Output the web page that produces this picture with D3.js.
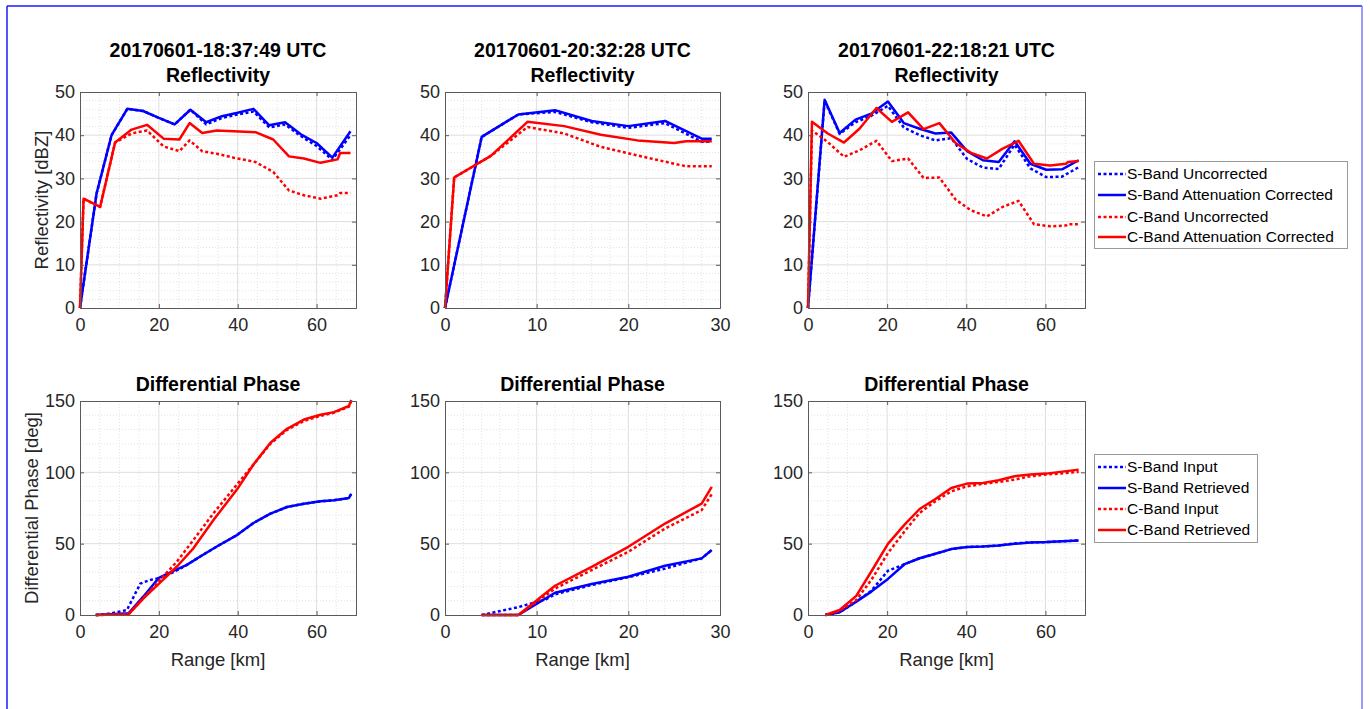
<!DOCTYPE html>
<html>
<head>
<meta charset="utf-8">
<script src="https://cdn.jsdelivr.net/npm/d3@7"></script>
<style>
  html, body { margin: 0; padding: 0; background: #fff; }
  svg { display: block; font-family: "Liberation Sans", Arial, Helvetica, sans-serif; }
</style>
</head>
<body>
<svg id="chart" width="1370" height="709"></svg>
<script>
// ---------------- DATA ----------------
const timeLabels = ["20170601-18:37:49 UTC", "20170601-20:32:28 UTC", "20170601-22:18:21 UTC"];
const reflTicksY = [0, 10, 20, 30, 40, 50];
const phaseTicksY = [0, 50, 100, 150];
const rangeTicksLong = [0, 20, 40, 60];
const rangeTicksShort = [0, 10, 20, 30];
const reflLegend = ["S-Band Uncorrected", "S-Band Attenuation Corrected", "C-Band Uncorrected", "C-Band Attenuation Corrected"];
const phaseLegend = ["S-Band Input", "S-Band Retrieved", "C-Band Input", "C-Band Retrieved"];

// Scan 1 reflectivity
const s1Range = [0, 4.2, 8, 12, 16, 20, 24, 28, 32, 36, 40, 44, 48, 52, 56, 60, 64, 68.6];
const s1Unc   = [0, 26.5, 40, 46.1, 45.6, 44, 42.5, 45.9, 42.5, 44, 44.8, 45.5, 41.8, 42.5, 39.8, 37.5, 34.3, 40];
const s1Corr  = [0, 26.5, 40, 46.1, 45.6, 44, 42.5, 45.9, 43, 44.4, 45.2, 46.1, 42.3, 43, 40.2, 38.2, 34.8, 40.9];
const c1Range = [0, 0.9, 5.1, 8.9, 13.1, 17, 21.2, 25.2, 27.8, 31, 34.7, 39, 44.5, 49, 53, 56.8, 61, 65.3, 66, 68.6];
const c1Unc   = [0, 25.3, 23.4, 38.3, 40.4, 41.1, 37.4, 36.3, 38.8, 36.3, 35.7, 34.8, 33.8, 31.5, 27.2, 26.1, 25.3, 26.1, 26.6, 26.6];
const c1Corr  = [0, 25.3, 23.4, 38.3, 41.3, 42.4, 39.2, 39, 42.8, 40.5, 41.1, 40.9, 40.7, 39, 35.1, 34.6, 33.6, 34.4, 35.9, 35.9];

// Scan 2 reflectivity
const s2Range = [0, 4, 8, 12, 16, 20, 24, 28, 29.1];
const s2Unc   = [0, 39.6, 44.8, 45.4, 43, 41.7, 42.8, 38.5, 38.5];
const s2Corr  = [0, 39.6, 44.8, 45.8, 43.3, 42.1, 43.3, 39.2, 39.2];
const c2Range = [0, 1, 5, 9, 13, 17, 21, 25, 26.3, 29.1];
const c2Unc   = [0, 30.2, 35.2, 41.9, 40.4, 37.3, 35.3, 33.4, 32.8, 32.8];
const c2Corr  = [0, 30.2, 35.2, 43.1, 42.1, 40.1, 38.8, 38.2, 38.6, 38.6];

// Scan 3 reflectivity
const s3Range = [0, 4.2, 8, 12, 16, 20.2, 24.2, 28.2, 32.2, 36.2, 40.2, 44.2, 48.2, 52.2, 56.2, 60.2, 64.2, 68.4];
const s3Unc   = [0, 48, 40.3, 43, 44.5, 46.8, 41.8, 40, 38.8, 39.3, 34.5, 32.5, 32.2, 37.8, 32.3, 30.3, 30.4, 32.6];
const s3Corr  = [0, 48.2, 40.5, 43.6, 45, 47.8, 42.8, 41.5, 40.4, 40.6, 36.3, 34.2, 33.8, 38.6, 33.4, 32, 32.1, 34.2];
const c3Range = [0, 1, 5, 9.1, 13, 17.3, 21.2, 25.3, 29.2, 33.2, 37.3, 41.2, 45.2, 49.2, 53.2, 57.1, 61.2, 65.2, 65.7, 68.4];
const c3Unc   = [0, 41.1, 38.4, 35, 36.5, 38.7, 34, 34.6, 30.1, 30.2, 25.1, 22.6, 21.2, 23.4, 24.8, 19.4, 18.9, 19.1, 19.4, 19.4];
const c3Corr  = [0, 43.1, 40.4, 38.3, 41.5, 46.3, 43.1, 45.3, 41.4, 42.8, 38.2, 35.9, 34.6, 36.9, 38.7, 33.4, 33, 33.4, 33.8, 34];

// Scan 1 differential phase
const p1sInRange = [4, 7.6, 11.9, 15.3, 17.8, 20.3, 23.7, 27, 30.5, 34.7, 39.8, 44, 48.3, 52.5, 56.8, 61, 64.4, 68.2, 68.8];
const p1sIn      = [0, 1, 3.5, 22, 24.6, 26, 30, 35, 41, 48, 56, 64.5, 71, 75.7, 78, 79.7, 80.4, 82, 85];
const p1sRetRange = [4, 12.3, 16.1, 20, 23.7, 27, 30.5, 34.7, 39.8, 44, 48.3, 52.5, 56.8, 61, 64.4, 68.2, 68.8];
const p1sRet      = [0, 1.2, 13, 26, 31, 35, 41, 48, 56, 64.5, 71, 75.7, 78, 79.7, 80.4, 82, 85];
const p1cRange = [4, 12.3, 16.1, 20.3, 24.6, 28.8, 33.9, 39.8, 44, 48.3, 52.5, 56.8, 61, 64.4, 68.2, 68.8];
const p1cIn    = [0, 0.5, 12, 24.6, 37.5, 52.7, 71.5, 91.4, 105.5, 120, 129.8, 136, 139.6, 141.8, 146, 150];
const p1cRet   = [0, 0.5, 11.7, 22.7, 34, 46.9, 66.8, 87.9, 105.5, 120.7, 130.5, 137, 140.4, 142.2, 146.5, 150.7];

// Scan 2 differential phase
const p2sInRange = [4, 8, 11, 12, 16, 20, 24, 28, 29.1];
const p2sIn      = [0, 5.5, 11, 14.5, 21, 26.5, 32.5, 39.7, 45.5];
const p2Range    = [4, 8, 12, 16, 20, 24, 28, 29.1];
const p2sRet     = [0, 0, 15.6, 21.7, 26.8, 34.5, 39.7, 45.5];
const p2cIn      = [0, 0, 18.5, 31.5, 44.3, 60.6, 73.5, 84.7];
const p2cRet     = [0, 0, 20.5, 33.8, 47.8, 64.1, 78.1, 89.8];

// Scan 3 differential phase
const p3Range = [4.4, 8, 12.2, 16, 20.2, 24.4, 28.2, 32.2, 36.2, 40.2, 44.2, 48.2, 52.2, 56.2, 60.2, 68.4];
const p3sIn   = [0, 1.9, 9.4, 17, 31, 35.6, 39.8, 42.9, 46.2, 47.6, 48, 48.7, 50.2, 50.9, 51.1, 52.3];
const p3sRet  = [0, 1.9, 9.4, 16.4, 25.3, 35.6, 39.8, 42.9, 46.2, 47.6, 48, 48.7, 49.9, 50.9, 51.1, 52.3];
const p3cIn   = [0, 3, 10.5, 24.6, 43.4, 58.6, 71.5, 79.7, 86.7, 90.2, 91.9, 93.3, 94.9, 97.3, 98.4, 100.3];
const p3cRet  = [0, 3.5, 13.4, 30.5, 49.9, 63.3, 74.3, 81.3, 89, 92.1, 92.6, 94.4, 97.3, 98.4, 99.1, 101.9];

// ---------------- LAYOUT / STYLE ----------------
const BLUE = "#0000ff", RED = "#ff0000";
const TXT = "#262626";
const cols = [{l: 80, r: 356}, {l: 445, r: 720}, {l: 808, r: 1085}];
const rows = [{t: 92, b: 308}, {t: 401, b: 615}];
const svg = d3.select("#chart");

// outer frame
svg.append("line").attr("x1", 7).attr("x2", 7).attr("y1", 6).attr("y2", 709).attr("stroke", "#1a1aff").attr("stroke-width", 1.5);
svg.append("line").attr("x1", 7).attr("x2", 1362).attr("y1", 6).attr("y2", 6).attr("stroke", "#1a1aff").attr("stroke-width", 1.5);
svg.append("line").attr("x1", 1362).attr("x2", 1362).attr("y1", 6).attr("y2", 709).attr("stroke", "#7777ff").attr("stroke-width", 1.5);

function mk(xs, ys) { return xs.map((x, i) => [x, ys[i]]); }

function panel(col, row, xMax, xTicks, xMinorStep, yMax, yTicks, yMinorStep, series, opts) {
  const c = cols[col], r = rows[row];
  const x = d3.scaleLinear().domain([0, xMax]).range([c.l, c.r]);
  const y = d3.scaleLinear().domain([0, yMax]).range([r.b, r.t]);
  const g = svg.append("g");

  // minor grid
  const xMinor = d3.range(0, xMax + 1e-9, xMinorStep).filter(v => !xTicks.includes(v) && v > 0 && v < xMax);
  const yMinor = d3.range(0, yMax + 1e-9, yMinorStep).filter(v => !yTicks.includes(v) && v > 0 && v < yMax);
  g.selectAll(".xm").data(xMinor).join("line")
    .attr("x1", d => x(d)).attr("x2", d => x(d)).attr("y1", r.t).attr("y2", r.b)
    .attr("stroke", "#dcdcdc").attr("stroke-width", 0.8).attr("stroke-dasharray", "1,2");
  g.selectAll(".ym").data(yMinor).join("line")
    .attr("x1", c.l).attr("x2", c.r).attr("y1", d => y(d)).attr("y2", d => y(d))
    .attr("stroke", "#dcdcdc").attr("stroke-width", 0.8).attr("stroke-dasharray", "1,2");
  // major grid
  g.selectAll(".xg").data(xTicks.filter(v => v > 0 && v < xMax)).join("line")
    .attr("x1", d => x(d)).attr("x2", d => x(d)).attr("y1", r.t).attr("y2", r.b)
    .attr("stroke", "#dedede").attr("stroke-width", 1);
  g.selectAll(".yg").data(yTicks.filter(v => v > 0 && v < yMax)).join("line")
    .attr("x1", c.l).attr("x2", c.r).attr("y1", d => y(d)).attr("y2", d => y(d))
    .attr("stroke", "#dedede").attr("stroke-width", 1);

  // series
  const line = d3.line().x(d => x(d[0])).y(d => y(d[1]));
  series.forEach(s => {
    g.append("path").datum(s.pts).attr("d", line).attr("fill", "none")
      .attr("stroke", s.color).attr("stroke-width", 2.5)
      .attr("stroke-dasharray", s.dotted ? "3,2.5" : null)
      .attr("stroke-linejoin", "round");
  });

  // axes via d3 axis
  const xAxis = d3.axisBottom(x).tickValues(xTicks).tickSize(-4).tickPadding(10).tickFormat(d3.format("d"));
  const yAxis = d3.axisLeft(y).tickValues(yTicks).tickSize(-4).tickPadding(5).tickFormat(d3.format("d"));
  const xa = g.append("g").attr("transform", `translate(0,${r.b})`).call(xAxis);
  const ya = g.append("g").attr("transform", `translate(${c.l},0)`).call(yAxis);
  const xa2 = g.append("g").attr("transform", `translate(0,${r.t})`).call(d3.axisTop(x).tickValues(xTicks).tickSize(-4).tickFormat(""));
  const ya2 = g.append("g").attr("transform", `translate(${c.r},0)`).call(d3.axisRight(y).tickValues(yTicks).tickSize(-4).tickFormat(""));
  [xa, ya, xa2, ya2].forEach(a => {
    a.select(".domain").attr("stroke", "#5a5a5a").attr("stroke-width", 1);
    a.selectAll(".tick line").attr("stroke", "#5a5a5a");
    a.selectAll("text").attr("fill", TXT).attr("font-size", 18).style("font-family", '"Liberation Sans", Arial, sans-serif');
  });
  xa.selectAll("text").attr("dy", "0.71em");

  // titles
  const cx = (c.l + c.r) / 2;
  if (opts.titles) {
    opts.titles.forEach((t, i) => {
      g.append("text").attr("x", cx).attr("y", opts.titleY[i]).attr("text-anchor", "middle")
        .attr("font-weight", "bold").attr("font-size", 19.5).attr("fill", "#000").text(t);
    });
  }
  if (opts.ylabel) {
    g.append("text").attr("transform", `translate(${opts.ylabelX},${(r.t + r.b) / 2}) rotate(-90)`)
      .attr("text-anchor", "middle").attr("font-size", 18.5).attr("fill", TXT).text(opts.ylabel);
  }
  if (opts.xlabel) {
    g.append("text").attr("x", cx).attr("y", r.b + 51).attr("text-anchor", "middle")
      .attr("font-size", 18.5).attr("fill", TXT).text(opts.xlabel);
  }
}

function reflSeries(sr, su, sc, cr, cu, cc) {
  return [
    {pts: mk(sr, su), color: BLUE, dotted: true},
    {pts: mk(sr, sc), color: BLUE, dotted: false},
    {pts: mk(cr, cu), color: RED, dotted: true},
    {pts: mk(cr, cc), color: RED, dotted: false}
  ];
}

// top row
panel(0, 0, 70, rangeTicksLong, 5, 50, reflTicksY, 2,
  reflSeries(s1Range, s1Unc, s1Corr, c1Range, c1Unc, c1Corr),
  {titles: [timeLabels[0], "Reflectivity"], titleY: [57, 82], ylabel: "Reflectivity [dBZ]", ylabelX: 48});
panel(1, 0, 30, rangeTicksShort, 2, 50, reflTicksY, 2,
  reflSeries(s2Range, s2Unc, s2Corr, c2Range, c2Unc, c2Corr),
  {titles: [timeLabels[1], "Reflectivity"], titleY: [57, 82]});
panel(2, 0, 70, rangeTicksLong, 5, 50, reflTicksY, 2,
  reflSeries(s3Range, s3Unc, s3Corr, c3Range, c3Unc, c3Corr),
  {titles: [timeLabels[2], "Reflectivity"], titleY: [57, 82]});

// bottom row
panel(0, 1, 70, rangeTicksLong, 5, 150, phaseTicksY, 10, [
    {pts: mk(p1sInRange, p1sIn), color: BLUE, dotted: true},
    {pts: mk(p1sRetRange, p1sRet), color: BLUE, dotted: false},
    {pts: mk(p1cRange, p1cIn), color: RED, dotted: true},
    {pts: mk(p1cRange, p1cRet), color: RED, dotted: false}
  ],
  {titles: ["Differential Phase"], titleY: [391], ylabel: "Differential Phase [deg]", ylabelX: 38, xlabel: "Range [km]"});
panel(1, 1, 30, rangeTicksShort, 2, 150, phaseTicksY, 10, [
    {pts: mk(p2sInRange, p2sIn), color: BLUE, dotted: true},
    {pts: mk(p2Range, p2sRet), color: BLUE, dotted: false},
    {pts: mk(p2Range, p2cIn), color: RED, dotted: true},
    {pts: mk(p2Range, p2cRet), color: RED, dotted: false}
  ],
  {titles: ["Differential Phase"], titleY: [391], xlabel: "Range [km]"});
panel(2, 1, 70, rangeTicksLong, 5, 150, phaseTicksY, 10, [
    {pts: mk(p3Range, p3sIn), color: BLUE, dotted: true},
    {pts: mk(p3Range, p3sRet), color: BLUE, dotted: false},
    {pts: mk(p3Range, p3cIn), color: RED, dotted: true},
    {pts: mk(p3Range, p3cRet), color: RED, dotted: false}
  ],
  {titles: ["Differential Phase"], titleY: [391], xlabel: "Range [km]"});

// legends
function legend(x0, y0, w, h, labels, rowY) {
  const g = svg.append("g");
  g.append("rect").attr("x", x0 + 0.5).attr("y", y0 + 0.5).attr("width", w).attr("height", h)
    .attr("fill", "#fff").attr("stroke", "#9a9a9a").attr("stroke-width", 1);
  const styles = [{c: BLUE, d: true}, {c: BLUE, d: false}, {c: RED, d: true}, {c: RED, d: false}];
  labels.forEach((lab, i) => {
    const yy = y0 + rowY[i];
    g.append("line").attr("x1", x0 + 4).attr("x2", x0 + 32).attr("y1", yy).attr("y2", yy)
      .attr("stroke", styles[i].c).attr("stroke-width", 2.5)
      .attr("stroke-dasharray", styles[i].d ? "3,2.5" : null);
    g.append("text").attr("x", x0 + 33).attr("y", yy).attr("dy", "0.35em")
      .attr("font-size", 15.5).attr("fill", "#000").text(lab);
  });
}
legend(1094, 161, 253, 87, reflLegend, [13, 34, 56, 76]);
legend(1094, 454, 163, 88, phaseLegend, [13, 34, 55, 76]);
</script>
</body>
</html>
